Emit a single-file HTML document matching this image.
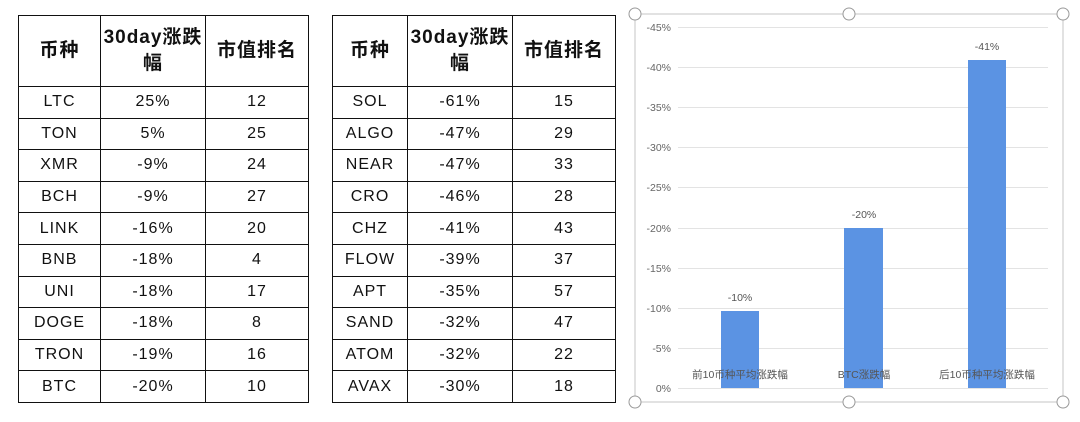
<!DOCTYPE html>
<html><head><meta charset="utf-8"><style>
body{margin:0;width:1080px;height:422px;background:#fff;position:relative;overflow:hidden;font-family:"Liberation Sans","Noto Sans CJK SC",sans-serif;}
table{position:absolute;border-collapse:collapse;table-layout:fixed;}
td{border:1.5px solid #111;text-align:center;font-size:16px;color:#111;padding:0;height:30.6px;letter-spacing:1px;}
tr.h td{height:70px;font-weight:bold;font-size:19px;line-height:26px;}
</style></head><body>
<table style="left:18px;top:15px;width:290px">
<colgroup><col style="width:82px"><col style="width:105px"><col style="width:103px"></colgroup>
<tr class="h"><td>币种</td><td>30day涨跌<br>幅</td><td>市值排名</td></tr>
<tr><td>LTC</td><td>25%</td><td>12</td></tr>
<tr><td>TON</td><td>5%</td><td>25</td></tr>
<tr><td>XMR</td><td>-9%</td><td>24</td></tr>
<tr><td>BCH</td><td>-9%</td><td>27</td></tr>
<tr><td>LINK</td><td>-16%</td><td>20</td></tr>
<tr><td>BNB</td><td>-18%</td><td>4</td></tr>
<tr><td>UNI</td><td>-18%</td><td>17</td></tr>
<tr><td>DOGE</td><td>-18%</td><td>8</td></tr>
<tr><td>TRON</td><td>-19%</td><td>16</td></tr>
<tr><td>BTC</td><td>-20%</td><td>10</td></tr>
</table>
<table style="left:332px;top:15px;width:283px">
<colgroup><col style="width:75px"><col style="width:105px"><col style="width:103px"></colgroup>
<tr class="h"><td>币种</td><td>30day涨跌<br>幅</td><td>市值排名</td></tr>
<tr><td>SOL</td><td>-61%</td><td>15</td></tr>
<tr><td>ALGO</td><td>-47%</td><td>29</td></tr>
<tr><td>NEAR</td><td>-47%</td><td>33</td></tr>
<tr><td>CRO</td><td>-46%</td><td>28</td></tr>
<tr><td>CHZ</td><td>-41%</td><td>43</td></tr>
<tr><td>FLOW</td><td>-39%</td><td>37</td></tr>
<tr><td>APT</td><td>-35%</td><td>57</td></tr>
<tr><td>SAND</td><td>-32%</td><td>47</td></tr>
<tr><td>ATOM</td><td>-32%</td><td>22</td></tr>
<tr><td>AVAX</td><td>-30%</td><td>18</td></tr>
</table>
<svg style="position:absolute;left:0;top:0" width="1080" height="422" font-family="Liberation Sans, Noto Sans CJK SC, sans-serif">
<rect x="635" y="14" width="428" height="388" fill="#fff" stroke="#d9d9d9" stroke-width="1.5"/>
<g stroke="#e3e3e3" stroke-width="1">
<line x1="678" x2="1048" y1="27.5" y2="27.5"/><line x1="678" x2="1048" y1="67.5" y2="67.5"/>
<line x1="678" x2="1048" y1="107.5" y2="107.5"/><line x1="678" x2="1048" y1="147.5" y2="147.5"/>
<line x1="678" x2="1048" y1="187.5" y2="187.5"/><line x1="678" x2="1048" y1="228.5" y2="228.5"/>
<line x1="678" x2="1048" y1="268.5" y2="268.5"/><line x1="678" x2="1048" y1="308.5" y2="308.5"/>
<line x1="678" x2="1048" y1="348.5" y2="348.5"/><line x1="678" x2="1048" y1="388.5" y2="388.5"/>
</g>
<g font-size="10.5" fill="#666" text-anchor="end">
<text x="671" y="31">-45%</text><text x="671" y="71">-40%</text><text x="671" y="111">-35%</text>
<text x="671" y="151">-30%</text><text x="671" y="191">-25%</text><text x="671" y="232">-20%</text>
<text x="671" y="272">-15%</text><text x="671" y="312">-10%</text><text x="671" y="352">-5%</text><text x="671" y="392">0%</text>
</g>
<rect x="721" y="311" width="38" height="77" fill="#5b93e3"/>
<rect x="844" y="228" width="39" height="160" fill="#5b93e3"/>
<rect x="968" y="60" width="38" height="328" fill="#5b93e3"/>
<g font-size="10.5" fill="#555" text-anchor="middle">
<text x="740" y="301">-10%</text><text x="864" y="218">-20%</text><text x="987" y="50">-41%</text>
<text x="740" y="378">前10币种平均涨跌幅</text><text x="864" y="378">BTC涨跌幅</text><text x="987" y="378">后10币种平均涨跌幅</text>
</g>
<g fill="#fff" stroke="#999" stroke-width="1">
<circle cx="635" cy="14" r="6"/><circle cx="849" cy="14" r="6"/><circle cx="1063" cy="14" r="6"/>
<circle cx="635" cy="402" r="6"/><circle cx="849" cy="402" r="6"/><circle cx="1063" cy="402" r="6"/>
</g>
</svg>
</body></html>
